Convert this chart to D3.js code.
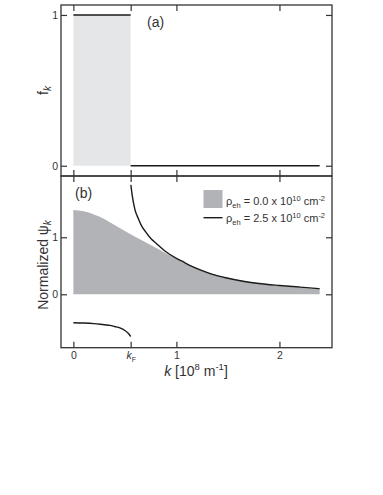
<!DOCTYPE html>
<html>
<head>
<meta charset="utf-8">
<script src="https://cdn.jsdelivr.net/npm/d3@7"></script>
<style>
  body { margin: 0; background: #fff; }
  svg { display: block; font-family: "Liberation Sans", Arial, sans-serif; }
</style>
</head>
<body>
<div id="chart"></div>
<script>
// values
var kF = 0.556;
var xTicks = [0, kF, 1, 2];
var xTickLabels = ['0', 'kF', '1', '2'];
var fTicks = [0, 1];
var psiTicks = [0, 1];

// panel (a): occupation f_k (two flat pieces, no vertical step drawn)
var fOccK = [0, kF];
var fOccV = [1, 1];
var fEmptyK = [kF, 2.39];
var fEmptyV = [0, 0];

// panel (b): rho_eh = 0.0 (grey area)
var grayK = [0, 0.1, 0.2, 0.3, 0.4, 0.5, 0.6, 0.7, 0.8, 0.9, 1.0, 1.1, 1.2, 1.3, 1.4, 1.5, 1.6, 1.8, 2.0, 2.2, 2.39];
var grayV = [1.48, 1.455, 1.40, 1.32, 1.215, 1.11, 1.01, 0.915, 0.815, 0.715, 0.62, 0.535, 0.46, 0.39, 0.335, 0.29, 0.25, 0.19, 0.146, 0.115, 0.088];

// panel (b): rho_eh = 2.5 (black line, two branches)
var upperK = [0.558, 0.57, 0.597, 0.63, 0.662, 0.7, 0.759, 0.8, 0.888, 1.0, 1.05, 1.15, 1.243, 1.35, 1.468, 1.66, 1.8, 2.0, 2.2, 2.39];
var upperV = [1.92, 1.75, 1.49, 1.33, 1.20, 1.10, 0.965, 0.90, 0.76, 0.63, 0.584, 0.49, 0.42, 0.35, 0.295, 0.225, 0.19, 0.155, 0.125, 0.098];
var lowerK = [0, 0.1, 0.2, 0.3, 0.355, 0.4, 0.452, 0.5, 0.53, 0.556];
var lowerV = [-0.50, -0.505, -0.515, -0.535, -0.545, -0.565, -0.59, -0.635, -0.68, -0.74];

var W = 383, H = 495;
var padL = 61, padR = 332, yTop = 5, yMid = 176, yBot = 347.7;
var ink = '#333';

var svg = d3.select('#chart').append('svg').attr('width', W).attr('height', H);

var x = d3.scaleLinear().domain([-0.12, 2.51]).range([padL, padR]);
var ya = d3.scaleLinear().domain([-0.068, 1.066]).range([yMid, yTop]);
var yb = d3.scaleLinear().domain([-0.937, 2.075]).range([yBot, yMid]);

function zip(a, b) { return a.map(function(v, i){ return [v, b[i]]; }); }

// fills first
svg.append('path')
  .attr('d', d3.area().x(function(d){ return x(d[0]); }).y0(ya(0)).y1(function(d){ return ya(d[1]); })(zip(fOccK, fOccV)))
  .attr('fill', '#e5e6e8');

svg.append('path')
  .attr('d', d3.area().curve(d3.curveMonotoneX)
    .x(function(d){ return x(d[0]); }).y0(yb(0)).y1(function(d){ return yb(d[1]); })(zip(grayK, grayV)))
  .attr('fill', '#b2b3b6');

// lines
var lineA = d3.line().x(function(d){ return x(d[0]); }).y(function(d){ return ya(d[1]); });
svg.append('path').attr('d', lineA(zip(fOccK, fOccV)))
  .attr('fill', 'none').attr('stroke', '#1a1a1a').attr('stroke-width', 1.4);
svg.append('path').attr('d', lineA(zip(fEmptyK, fEmptyV)))
  .attr('fill', 'none').attr('stroke', '#1a1a1a').attr('stroke-width', 1.4);

var lineB = d3.line().curve(d3.curveMonotoneX).x(function(d){ return x(d[0]); }).y(function(d){ return yb(d[1]); });
svg.append('path').attr('d', lineB(zip(upperK, upperV)))
  .attr('fill', 'none').attr('stroke', '#1a1a1a').attr('stroke-width', 1.4);
svg.append('path').attr('d', lineB(zip(lowerK, lowerV)))
  .attr('fill', 'none').attr('stroke', '#1a1a1a').attr('stroke-width', 1.4);

// axes (inside ticks)
function styleAxis(g) {
  g.select('.domain').remove();
  g.selectAll('.tick line').attr('stroke', ink).attr('stroke-width', 1.2);
  g.selectAll('.tick text').attr('fill', ink).attr('font-size', 10.5).attr('font-family', '"Liberation Sans", Arial, sans-serif');
}
function noLabel() { return ''; }

svg.append('g').attr('transform', 'translate(0,' + yTop + ')')
  .call(d3.axisTop(x).tickValues(xTicks).tickSize(-6).tickFormat(noLabel)).call(styleAxis);
svg.append('g').attr('transform', 'translate(0,' + yMid + ')')
  .call(d3.axisBottom(x).tickValues(xTicks).tickSize(-6).tickFormat(noLabel)).call(styleAxis);
svg.append('g').attr('transform', 'translate(0,' + yMid + ')')
  .call(d3.axisTop(x).tickValues(xTicks).tickSize(-6).tickFormat(noLabel)).call(styleAxis);

var xb = svg.append('g').attr('transform', 'translate(0,' + yBot + ')')
  .call(d3.axisBottom(x).tickValues(xTicks).tickSize(-6).tickPadding(4)
    .tickFormat(function(d, i){ return xTickLabels[i]; }))
  .call(styleAxis);
xb.selectAll('.tick text').each(function(d, i){
  if (xTickLabels[i] !== 'kF') return;
  var t = d3.select(this).text('');
  t.append('tspan').attr('font-style', 'italic').text('k');
  t.append('tspan').attr('font-size', 7).attr('dy', 3).text('F');
});

svg.append('g').attr('transform', 'translate(' + padL + ',0)')
  .call(d3.axisLeft(ya).tickValues(fTicks).tickSize(-6).tickPadding(3).tickFormat(d3.format('d'))).call(styleAxis);
svg.append('g').attr('transform', 'translate(' + padR + ',0)')
  .call(d3.axisRight(ya).tickValues(fTicks).tickSize(-6).tickFormat(noLabel)).call(styleAxis);
svg.append('g').attr('transform', 'translate(' + padL + ',0)')
  .call(d3.axisLeft(yb).tickValues(psiTicks).tickSize(-6).tickPadding(3).tickFormat(d3.format('d'))).call(styleAxis);
svg.append('g').attr('transform', 'translate(' + padR + ',0)')
  .call(d3.axisRight(yb).tickValues(psiTicks).tickSize(-6).tickFormat(noLabel)).call(styleAxis);

// frames
svg.append('rect').attr('x', padL).attr('y', yTop).attr('width', padR - padL).attr('height', yMid - yTop)
  .attr('fill', 'none').attr('stroke', ink).attr('stroke-width', 1.3);
svg.append('rect').attr('x', padL).attr('y', yMid).attr('width', padR - padL).attr('height', yBot - yMid)
  .attr('fill', 'none').attr('stroke', ink).attr('stroke-width', 1.3);

// panel labels
svg.append('text').attr('x', 147).attr('y', 27).attr('font-size', 14).attr('fill', ink).text('(a)');
svg.append('text').attr('x', 75).attr('y', 198).attr('font-size', 14).attr('fill', ink).text('(b)');

// y titles
var fl = svg.append('text').attr('transform', 'translate(48,' + ((yTop + yMid) / 2) + ') rotate(-90)')
  .attr('text-anchor', 'middle').attr('font-size', 14).attr('fill', ink);
fl.append('tspan').text('f');
fl.append('tspan').attr('font-size', 10).attr('font-style', 'italic').attr('dy', 3).text('k');

var pl = svg.append('text').attr('transform', 'translate(48,265) rotate(-90)')
  .attr('text-anchor', 'middle').attr('font-size', 14).attr('fill', ink);
pl.append('tspan').text('Normalized ψ');
pl.append('tspan').attr('font-size', 10).attr('font-style', 'italic').attr('dy', 3).text('k');

// x title
var xl = svg.append('text').attr('x', 196).attr('y', 376).attr('text-anchor', 'middle')
  .attr('font-size', 14).attr('fill', ink);
xl.append('tspan').attr('font-style', 'italic').text('k');
xl.append('tspan').text(' [10');
xl.append('tspan').attr('font-size', 9.5).attr('dy', -6).text('8');
xl.append('tspan').attr('dy', 6).text(' m');
xl.append('tspan').attr('font-size', 9.5).attr('dy', -6).text('-1');
xl.append('tspan').attr('dy', 6).text(']');

// legend
var lg = svg.append('g');
lg.append('rect').attr('x', 203.5).attr('y', 190).attr('width', 19).attr('height', 18).attr('fill', '#b2b3b6');
lg.append('line').attr('x1', 203.5).attr('x2', 222.5).attr('y1', 217.7).attr('y2', 217.7)
  .attr('stroke', '#1a1a1a').attr('stroke-width', 1.4);
var legendText = ['0.0', '2.5'];
var legendY = [205, 222];
legendText.forEach(function(v, i){
  var t = lg.append('text').attr('x', 226).attr('y', legendY[i]).attr('font-size', 11).attr('fill', ink);
  t.append('tspan').text('ρ');
  t.append('tspan').attr('font-size', 7.5).attr('dy', 2.5).text('eh');
  t.append('tspan').attr('dy', -2.5).text(' = ' + v + ' x 10');
  t.append('tspan').attr('font-size', 7.5).attr('dy', -4).text('10');
  t.append('tspan').attr('dy', 4).text(' cm');
  t.append('tspan').attr('font-size', 7.5).attr('dy', -4).text('-2');
});
</script>
</body>
</html>
